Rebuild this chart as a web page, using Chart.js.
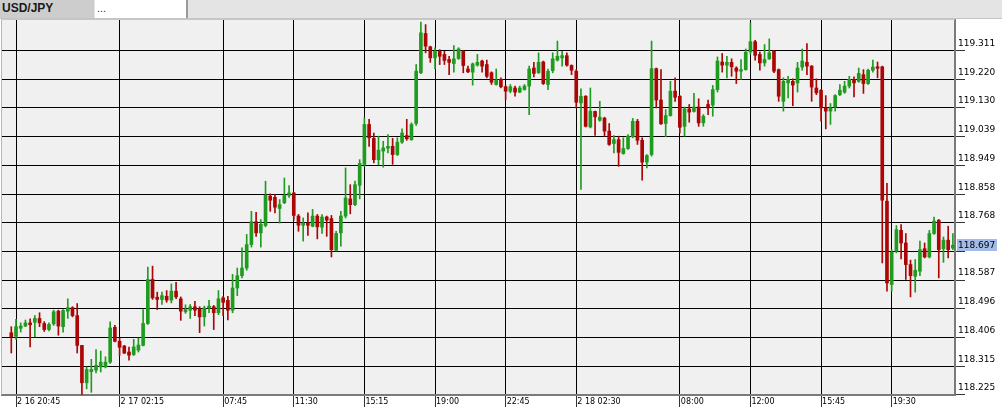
<!DOCTYPE html>
<html>
<head>
<meta charset="utf-8">
<script src="https://cdn.jsdelivr.net/npm/chart.js@4.4.1/dist/chart.umd.min.js"></script>
<style>
  html, body { margin: 0; padding: 0; background: #fff; }
  #wrap { position: relative; width: 1002px; height: 419px; overflow: hidden; }
  #chart { position: absolute; left: 0; top: 0; }
  #tabs { position: absolute; left: 0; top: 0; width: 1002px; height: 18px; background: #e4e4e4; border-bottom: 1px solid #c4c4c4; font-family: "Liberation Sans", Arial, sans-serif; }
  .tab { position: absolute; top: 0; height: 18px; line-height: 16px; box-sizing: border-box; }
  #tab1 { left: 0; width: 94px; background: #cdcdcd; font-weight: bold; font-size: 12px; color: #1a1a1a; padding-left: 2px; }
  #tab2 { left: 95px; width: 93px; background: #fff; border-right: 2px solid #9a9a9a; font-size: 11px; color: #333; padding-left: 2px; }
</style>
</head>
<body>
<div id="wrap">
  <canvas id="chart" width="1002" height="419"></canvas>
  <div id="tabs">
    <div class="tab" id="tab1">USD/JPY</div>
    <div class="tab" id="tab2">...</div>
  </div>
</div>
<script>
// USD/JPY 15 minute candles
const opens = [
  118.421, 118.410, 118.435, 118.442, 118.452, 118.454, 118.466, 118.450, 118.431, 118.449,
  118.489, 118.440, 118.489, 118.500, 118.475, 118.381, 118.263, 118.298, 118.303, 118.313,
  118.313, 118.328, 118.438, 118.394, 118.379, 118.360, 118.352, 118.366, 118.381, 118.450,
  118.589, 118.533, 118.526, 118.536, 118.524, 118.552, 118.528, 118.487, 118.492, 118.503,
  118.496, 118.471, 118.499, 118.503, 118.484, 118.531, 118.523, 118.492, 118.562, 118.601,
  118.625, 118.699, 118.771, 118.736, 118.759, 118.852, 118.848, 118.813, 118.831, 118.854,
  118.862, 118.789, 118.760, 118.767, 118.757, 118.789, 118.754, 118.786, 118.781, 118.681,
  118.736, 118.789, 118.843, 118.825, 118.886, 118.952, 119.078, 119.034, 118.967, 118.994,
  119.003, 119.009, 118.983, 119.022, 119.043, 119.030, 119.081, 119.241, 119.365, 119.323,
  119.288, 119.309, 119.299, 119.283, 119.270, 119.286, 119.309, 119.253, 119.243, 119.265,
  119.278, 119.267, 119.241, 119.204, 119.220, 119.197, 119.183, 119.193, 119.180, 119.188,
  119.199, 119.256, 119.241, 119.275, 119.204, 119.248, 119.281, 119.288, 119.295, 119.264,
  119.246, 119.146, 119.167, 119.070, 119.119, 119.091, 119.098, 119.057, 119.018, 119.030,
  118.986, 119.002, 119.039, 119.088, 119.028, 118.959, 118.983, 119.254, 119.155, 119.081,
  119.106, 119.183, 119.167, 119.072, 119.127, 119.119, 119.133, 119.083, 119.141, 119.139,
  119.188, 119.275, 119.265, 119.274, 119.256, 119.246, 119.251, 119.307, 119.339, 119.299,
  119.272, 119.285, 119.309, 119.251, 119.151, 119.209, 119.214, 119.209, 119.259, 119.274,
  119.262, 119.193, 119.186, 119.130, 119.120, 119.133, 119.172, 119.180, 119.199, 119.220,
  119.214, 119.235, 119.207, 119.249, 119.260, 119.260, 118.836, 118.573, 118.678, 118.744,
  118.704, 118.636, 118.599, 118.615, 118.686, 118.660, 118.734, 118.776, 118.686, 118.713,
  118.688
];
const highs = [
  118.440, 118.463, 118.452, 118.461, 118.465, 118.475, 118.484, 118.456, 118.452, 118.492,
  118.492, 118.494, 118.528, 118.503, 118.513, 118.381, 118.313, 118.337, 118.368, 118.363,
  118.345, 118.455, 118.444, 118.404, 118.381, 118.376, 118.400, 118.404, 118.494, 118.628,
  118.631, 118.549, 118.549, 118.554, 118.575, 118.580, 118.534, 118.509, 118.510, 118.520,
  118.503, 118.505, 118.523, 118.507, 118.554, 118.536, 118.536, 118.605, 118.625, 118.689,
  118.731, 118.804, 118.801, 118.778, 118.899, 118.859, 118.857, 118.841, 118.909, 118.885,
  118.864, 118.794, 118.783, 118.799, 118.810, 118.794, 118.794, 118.789, 118.791, 118.741,
  118.804, 118.941, 118.888, 118.899, 118.967, 119.099, 119.094, 119.051, 119.041, 119.025,
  119.046, 119.034, 119.036, 119.064, 119.094, 119.083, 119.267, 119.401, 119.393, 119.325,
  119.320, 119.314, 119.309, 119.293, 119.327, 119.320, 119.312, 119.262, 119.272, 119.299,
  119.281, 119.281, 119.244, 119.253, 119.225, 119.201, 119.204, 119.199, 119.199, 119.204,
  119.262, 119.274, 119.304, 119.278, 119.253, 119.304, 119.341, 119.309, 119.304, 119.266,
  119.251, 119.190, 119.169, 119.193, 119.120, 119.151, 119.101, 119.081, 119.043, 119.041,
  119.036, 119.046, 119.097, 119.094, 119.036, 118.983, 119.341, 119.256, 119.251, 119.125,
  119.214, 119.225, 119.169, 119.133, 119.141, 119.176, 119.159, 119.109, 119.155, 119.201,
  119.291, 119.302, 119.293, 119.285, 119.260, 119.283, 119.316, 119.398, 119.343, 119.306,
  119.330, 119.348, 119.312, 119.253, 119.225, 119.230, 119.222, 119.274, 119.316, 119.333,
  119.264, 119.222, 119.188, 119.169, 119.144, 119.172, 119.204, 119.214, 119.230, 119.228,
  119.256, 119.251, 119.253, 119.281, 119.275, 119.262, 118.892, 118.683, 118.759, 118.762,
  118.734, 118.650, 118.652, 118.710, 118.704, 118.744, 118.786, 118.778, 118.723, 118.757,
  118.734
];
const lows = [
  118.357, 118.400, 118.423, 118.440, 118.376, 118.408, 118.440, 118.425, 118.427, 118.444,
  118.413, 118.423, 118.466, 118.471, 118.357, 118.226, 118.244, 118.233, 118.294, 118.297,
  118.310, 118.324, 118.392, 118.349, 118.355, 118.334, 118.349, 118.360, 118.379, 118.447,
  118.526, 118.494, 118.510, 118.517, 118.515, 118.528, 118.460, 118.482, 118.466, 118.475,
  118.421, 118.442, 118.484, 118.431, 118.478, 118.475, 118.461, 118.484, 118.538, 118.594,
  118.618, 118.691, 118.725, 118.691, 118.755, 118.804, 118.799, 118.767, 118.828, 118.848,
  118.776, 118.741, 118.710, 118.728, 118.755, 118.717, 118.734, 118.725, 118.660, 118.678,
  118.694, 118.783, 118.796, 118.822, 118.843, 118.946, 119.009, 118.957, 118.951, 118.943,
  118.988, 118.952, 118.980, 119.018, 119.028, 119.028, 119.075, 119.238, 119.304, 119.274,
  119.253, 119.267, 119.267, 119.235, 119.243, 119.283, 119.241, 119.241, 119.202, 119.262,
  119.243, 119.225, 119.204, 119.202, 119.193, 119.157, 119.178, 119.167, 119.178, 119.186,
  119.109, 119.228, 119.239, 119.204, 119.188, 119.241, 119.278, 119.262, 119.262, 119.235,
  119.130, 118.873, 119.070, 119.067, 119.043, 119.088, 119.041, 119.012, 118.988, 118.946,
  118.984, 118.999, 119.036, 119.015, 118.902, 118.941, 118.978, 119.130, 119.078, 119.039,
  119.104, 119.151, 119.051, 119.041, 119.085, 119.117, 119.072, 119.072, 119.109, 119.104,
  119.180, 119.243, 119.225, 119.230, 119.207, 119.220, 119.249, 119.299, 119.281, 119.249,
  119.262, 119.283, 119.241, 119.151, 119.120, 119.162, 119.137, 119.180, 119.249, 119.235,
  119.151, 119.172, 119.088, 119.064, 119.078, 119.120, 119.169, 119.176, 119.193, 119.165,
  119.211, 119.176, 119.204, 119.243, 119.225, 118.641, 118.552, 118.552, 118.673, 118.654,
  118.589, 118.534, 118.549, 118.601, 118.657, 118.657, 118.731, 118.594, 118.643, 118.657,
  118.683
];
const closes = [
  118.408, 118.440, 118.442, 118.452, 118.446, 118.466, 118.452, 118.431, 118.447, 118.487,
  118.442, 118.491, 118.500, 118.475, 118.381, 118.263, 118.305, 118.305, 118.318, 118.328,
  118.328, 118.436, 118.394, 118.375, 118.357, 118.350, 118.376, 118.382, 118.450, 118.589,
  118.531, 118.526, 118.538, 118.524, 118.552, 118.534, 118.489, 118.494, 118.503, 118.492,
  118.471, 118.499, 118.505, 118.484, 118.528, 118.517, 118.492, 118.562, 118.601, 118.625,
  118.699, 118.771, 118.736, 118.763, 118.854, 118.839, 118.817, 118.825, 118.854, 118.862,
  118.791, 118.760, 118.767, 118.760, 118.789, 118.755, 118.786, 118.776, 118.683, 118.734,
  118.789, 118.846, 118.825, 118.888, 118.955, 119.078, 119.036, 118.967, 118.997, 119.004,
  119.009, 118.983, 119.022, 119.051, 119.033, 119.078, 119.246, 119.367, 119.325, 119.288,
  119.309, 119.293, 119.280, 119.274, 119.285, 119.316, 119.264, 119.244, 119.269, 119.274,
  119.262, 119.230, 119.211, 119.218, 119.197, 119.183, 119.197, 119.180, 119.193, 119.199,
  119.253, 119.239, 119.274, 119.207, 119.246, 119.285, 119.293, 119.295, 119.265, 119.249,
  119.148, 119.167, 119.072, 119.120, 119.102, 119.101, 119.057, 119.015, 119.030, 118.990,
  119.002, 119.041, 119.088, 119.028, 118.959, 118.980, 119.254, 119.155, 119.080, 119.106,
  119.183, 119.164, 119.069, 119.127, 119.117, 119.133, 119.083, 119.104, 119.130, 119.188,
  119.278, 119.265, 119.274, 119.260, 119.246, 119.251, 119.306, 119.339, 119.296, 119.272,
  119.283, 119.304, 119.246, 119.167, 119.214, 119.220, 119.202, 119.256, 119.278, 119.262,
  119.196, 119.178, 119.130, 119.120, 119.130, 119.169, 119.186, 119.199, 119.220, 119.209,
  119.239, 119.207, 119.249, 119.259, 119.255, 118.839, 118.578, 118.675, 118.746, 118.704,
  118.636, 118.601, 118.618, 118.683, 118.660, 118.734, 118.773, 118.683, 118.713, 118.683,
  118.697
];

// time labels sit on these bar numbers
const timeTickBars = [1, 23, 45, 60, 75, 90, 105, 120, 142, 157, 172, 187];
const timeTickLabels = ['2 16 20:45', '2 17 02:15', '07:45', '11:30', '15:15', '19:00',
  '22:45', '2 18 02:30', '08:00', '12:00', '15:45', '19:30'];

const priceTickLabels = ['118.225', '118.315', '118.406', '118.496', '118.587', '118.677',
  '118.768', '118.858', '118.949', '119.039', '119.130', '119.220', '119.311'];

const GREEN = '#1f9c1f';
const RED = '#ab0505';

const candleColor = (ctx) => closes[ctx.dataIndex] >= opens[ctx.dataIndex] ? GREEN : RED;
const lastClose = closes[closes.length - 1];

const plotFrame = {
  id: 'plotFrame',
  beforeDraw(chart) {
    const { ctx, chartArea: a } = chart;
    ctx.save();
    ctx.fillStyle = '#f0f0f0';
    ctx.fillRect(a.left, a.top, a.right - a.left, a.bottom - a.top);
    ctx.restore();
  },
  afterDraw(chart) {
    const { ctx, chartArea: a } = chart;
    ctx.save();
    ctx.fillStyle = '#b8b8b8';
    ctx.fillRect(a.left - 1, a.top - 1, 1, a.bottom - a.top + 1);
    ctx.fillStyle = '#c8c8c8';
    ctx.fillRect(a.left - 1, a.top - 1, a.right - a.left + 1, 1);

    // current price box on the axis
    const y = Math.round(chart.scales.y.getPixelForValue(lastClose));
    ctx.fillStyle = '#a3bbe8';
    ctx.fillRect(a.right + 2, y - 6, 40, 12);
    ctx.fillStyle = '#000';
    ctx.font = '9px "DejaVu Sans"';
    ctx.textBaseline = 'middle';
    ctx.fillText(lastClose.toFixed(3), a.right + 3, y + 0.5);
    ctx.restore();
  }
};

new Chart(document.getElementById('chart'), {
  type: 'bar',
  data: {
    datasets: [
      {
        label: 'wick',
        data: highs.map((h, i) => ({ x: i, y: [lows[i], h] })),
        backgroundColor: candleColor,
        barThickness: 1,
        grouped: false,
        order: 2
      },
      {
        label: 'body',
        data: opens.map((o, i) => ({ x: i, y: [o, closes[i]] })),
        backgroundColor: candleColor,
        barThickness: 3,
        minBarLength: 1,
        grouped: false,
        order: 1
      }
    ]
  },
  options: {
    responsive: false,
    animation: false,
    devicePixelRatio: 1,
    layout: { padding: { top: 20, left: 2, right: 0, bottom: 0 } },
    plugins: { legend: { display: false }, tooltip: { enabled: false } },
    scales: {
      x: {
        type: 'linear',
        min: -1.975,
        max: 200.45,
        offset: false,
        grid: { color: '#000', tickColor: '#333', tickLength: 12, offset: false },
        border: { color: '#7a7a7a', width: 2 },
        afterBuildTicks: (s) => { s.ticks = timeTickBars.map(v => ({ value: v })); },
        afterFit: (s) => { s.height = 24; },
        ticks: {
          autoSkip: false,
          maxRotation: 0,
          align: 'start',
          padding: -10,
          labelOffset: 1,
          color: '#000',
          font: { family: 'DejaVu Sans', size: 8 },
          callback: (v, i) => timeTickLabels[i]
        }
      },
      y: {
        position: 'right',
        min: 118.2245,
        max: 119.4075,
        grid: { color: '#000', tickColor: '#333', tickLength: 10 },
        border: { color: '#7a7a7a', width: 2 },
        afterBuildTicks: (s) => { s.ticks = priceTickLabels.map(t => ({ value: Number(t) })); },
        afterFit: (s) => { s.width = 47; },
        ticks: {
          padding: -7,
          labelOffset: -7,
          color: '#000',
          font: { family: 'DejaVu Sans', size: 9 },
          callback: (v, i) => priceTickLabels[i]
        }
      }
    }
  },
  plugins: [plotFrame]
});
</script>
</body>
</html>
